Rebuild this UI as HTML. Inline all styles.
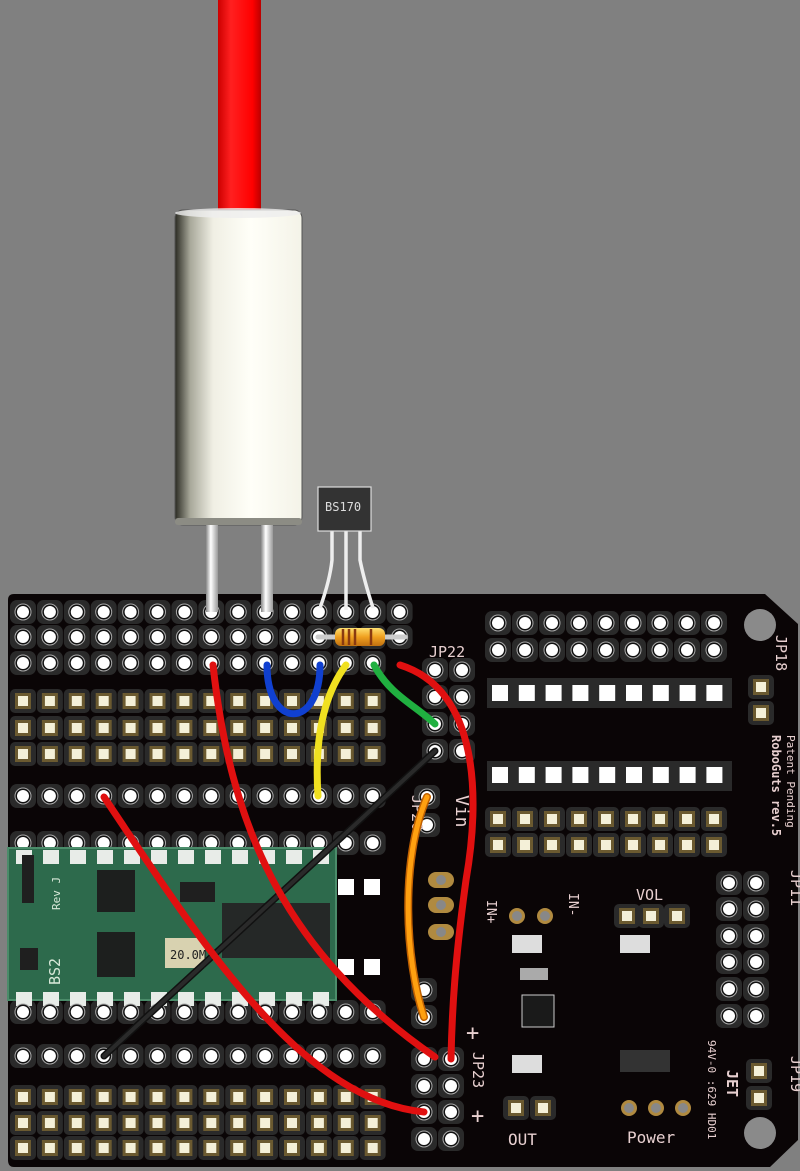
<!DOCTYPE html>
<html><head><meta charset="utf-8"><style>
html,body{margin:0;padding:0;background:#808080;}
svg{display:block}
text{font-family:"DejaVu Sans Mono","Liberation Mono",monospace;}
</style></head><body>
<svg id="s" width="800" height="1171" viewBox="0 0 800 1171" xmlns="http://www.w3.org/2000/svg">
<defs>
<linearGradient id="cyl" x1="0" x2="1" y1="0" y2="0">
<stop offset="0" stop-color="#2a2a22"/><stop offset="0.12" stop-color="#a8a89a"/><stop offset="0.3" stop-color="#f0efe4"/><stop offset="0.6" stop-color="#fffff8"/><stop offset="1" stop-color="#f4f3e8"/>
</linearGradient>
<linearGradient id="redw" x1="0" x2="1"><stop offset="0" stop-color="#c00"/><stop offset="0.3" stop-color="#ff2020"/><stop offset="0.8" stop-color="#f00"/><stop offset="1" stop-color="#b00"/></linearGradient>
<linearGradient id="pinw" x1="0" x2="1"><stop offset="0" stop-color="#888"/><stop offset="0.4" stop-color="#fff"/><stop offset="1" stop-color="#999"/></linearGradient>
<linearGradient id="res" x1="0" x2="0" y1="0" y2="1"><stop offset="0" stop-color="#ffe070"/><stop offset="0.5" stop-color="#f0a020"/><stop offset="1" stop-color="#c07010"/></linearGradient>
</defs>
<rect width="800" height="1171" fill="#808080"/>
<path d="M8 600 Q8 594 14 594 L765 594 L798 624 L798 1140 L770 1167 L14 1167 Q8 1167 8 1160 Z" fill="#0a0506"/>
<g id="pcb"></g>
<g id="under"></g>
<rect x="8" y="848" width="328" height="152" fill="#2d6a4c"/>
<rect x="8" y="848" width="328" height="152" fill="none" stroke="#4b8c6a" stroke-width="2"/>
<g fill="#e8ece8"><rect x="16" y="850" width="16" height="14"/><rect x="43" y="850" width="16" height="14"/><rect x="70" y="850" width="16" height="14"/><rect x="97" y="850" width="16" height="14"/><rect x="124" y="850" width="16" height="14"/><rect x="151" y="850" width="16" height="14"/><rect x="178" y="850" width="16" height="14"/><rect x="205" y="850" width="16" height="14"/><rect x="232" y="850" width="16" height="14"/><rect x="259" y="850" width="16" height="14"/><rect x="286" y="850" width="16" height="14"/><rect x="313" y="850" width="16" height="14"/>
<rect x="16" y="992" width="16" height="14"/><rect x="43" y="992" width="16" height="14"/><rect x="70" y="992" width="16" height="14"/><rect x="97" y="992" width="16" height="14"/><rect x="124" y="992" width="16" height="14"/><rect x="151" y="992" width="16" height="14"/><rect x="178" y="992" width="16" height="14"/><rect x="205" y="992" width="16" height="14"/><rect x="232" y="992" width="16" height="14"/><rect x="259" y="992" width="16" height="14"/><rect x="286" y="992" width="16" height="14"/><rect x="313" y="992" width="16" height="14"/></g>
<rect x="97" y="870" width="38" height="42" fill="#1d1f1e"/>
<rect x="97" y="932" width="38" height="45" fill="#1d1f1e"/>
<rect x="222" y="903" width="108" height="55" fill="#252827"/>
<rect x="165" y="938" width="40" height="30" fill="#d8d2b0"/>
<text x="170" y="959" font-size="12" fill="#222">20.0M</text>
<rect x="180" y="882" width="35" height="20" fill="#1f1f1f"/>
<text x="60" y="985" font-size="15" fill="#d8e8d8" transform="rotate(-90 60 985)">BS2</text>
<text x="60" y="910" font-size="11" fill="#d8e8d8" transform="rotate(-90 60 910)">Rev J</text>
<rect x="22" y="855" width="12" height="48" fill="#1f1f1f"/>
<rect x="20" y="948" width="18" height="22" fill="#1f1f1f"/>
<g id="pins"></g>
<g fill="#e8d0d0" font-size="15">
<text x="429" y="657">JP22</text>
<text x="412" y="795" transform="rotate(90 412 795)">JP20</text>
<text x="456" y="795" font-size="18" transform="rotate(90 456 795)">Vin</text>
<text x="473" y="1052" transform="rotate(90 473 1052)">JP23</text>
<text x="761" y="650" transform="rotate(90 776 650)" font-size="15">JP18</text>
<text x="787" y="735" transform="rotate(90 787 735)" font-size="11">Patent Pending</text>
<text x="772" y="735" transform="rotate(90 772 735)" font-size="12" font-weight="bold">RoboGuts rev.5</text>
<text x="791" y="870" transform="rotate(90 791 870)">JP11</text>
<text x="791" y="1056" transform="rotate(90 791 1056)">JP19</text>
<text x="636" y="900" font-size="15">VOL</text>
<text x="508" y="1145" font-size="16">OUT</text>
<text x="627" y="1143" font-size="16">Power</text>
<text x="487" y="900" transform="rotate(90 487 900)" font-size="13">IN+</text>
<text x="569" y="893" transform="rotate(90 569 893)" font-size="13">IN-</text>
<text x="708" y="1040" transform="rotate(90 708 1040)" font-size="11">94V-0 :629 HD01</text>
<text x="727" y="1070" transform="rotate(90 727 1070)" font-size="15" font-weight="bold">JET</text>
<text x="466" y="1040" font-size="22">+</text><text x="471" y="1123" font-size="22">+</text>
</g>
<g fill="#dddddd">
<rect x="512" y="935" width="30" height="18"/><rect x="620" y="935" width="30" height="18"/>
<rect x="512" y="1055" width="30" height="18"/><rect x="620" y="1050" width="50" height="22" fill="#333"/>
<rect x="520" y="968" width="28" height="12" fill="#aaa"/><rect x="522" y="995" width="32" height="32" fill="#1a1a1a" stroke="#ccc"/>
</g>
<circle cx="760" cy="625" r="16" fill="#8a8a8a"/>
<circle cx="760" cy="1133" r="16" fill="#8a8a8a"/>
<line x1="318" y1="637" x2="405" y2="637" stroke="#ccc" stroke-width="5" stroke-linecap="round"/>
<rect x="335" y="628" width="50" height="18" rx="6" fill="url(#res)"/>
<g stroke="#8a3a10" stroke-width="2.5"><line x1="343" y1="629" x2="343" y2="645"/><line x1="349" y1="629" x2="349" y2="645"/><line x1="355" y1="629" x2="355" y2="645"/><line x1="371" y1="629" x2="371" y2="645"/></g>
<g fill="none" stroke-linecap="round">
<path d="M267 665 C267 730 320 730 320 665" stroke="#1040d0" stroke-width="7"/>
<path d="M346 665 C320 700 315 750 318 796" stroke="#f0e020" stroke-width="7"/>
<path d="M374 665 C390 695 415 705 435 724" stroke="#20b040" stroke-width="7"/>
<path d="M427 797 C400 860 405 960 424 1017" stroke="#c06000" stroke-width="8"/>
<path d="M427 797 C400 860 405 960 424 1017" stroke="#ffa010" stroke-width="5"/>
<path d="M435 751 L104 1056" stroke="#111" stroke-width="7"/>
<path d="M435 751 L104 1056" stroke="#2a2a2a" stroke-width="4"/>
<path d="M213 665 C230 820 280 950 435 1057" stroke="#e01010" stroke-width="7"/>
<path d="M104 797 C200 940 300 1100 424 1112" stroke="#e01010" stroke-width="7"/>
<path d="M400 665 C480 690 480 800 466 880 C455 960 452 1010 451 1059" stroke="#e01010" stroke-width="7"/>
</g>
<rect x="218" y="0" width="43" height="215" fill="url(#redw)"/>
<rect x="175" y="210" width="127" height="315" rx="8" fill="url(#cyl)" stroke="#555" stroke-width="1"/>
<ellipse cx="238" cy="213" rx="63" ry="5" fill="#eee" opacity="0.8"/>
<rect x="175" y="518" width="127" height="7" rx="3" fill="#8c8c84"/>
<rect x="206" y="525" width="12" height="87" fill="url(#pinw)"/>
<rect x="261" y="525" width="12" height="87" fill="url(#pinw)"/>
<g fill="none" stroke="#eee" stroke-width="3.5">
<path d="M332 531 L332 560 Q330 580 320 608"/>
<path d="M346 531 L346 610"/>
<path d="M360 531 L360 560 Q364 580 373 608"/>
</g>
<rect x="318" y="487" width="53" height="44" fill="#333" stroke="#ddd" stroke-width="1.2"/>
<text x="325" y="511" font-size="12" fill="#ddd">BS170</text>
</svg>
<script>
var NS="http://www.w3.org/2000/svg";
var P=document.getElementById('pins'),B=document.getElementById('pcb'),U=document.getElementById('under');
function el(p,t,a){var e=document.createElementNS(NS,t);for(var k in a)e.setAttribute(k,a[k]);p.appendChild(e);return e;}
function rnd(x,y,T){T=T||P;el(B,'rect',{x:x-13,y:y-12,width:26,height:24,rx:7,fill:'#2a2a2a'});el(T,'circle',{cx:x,cy:y,r:8,fill:'#111',stroke:'#aaa','stroke-width':1});el(T,'circle',{cx:x,cy:y,r:6,fill:'#fff'});}
function sq(x,y){el(B,'rect',{x:x-13,y:y-12,width:26,height:24,rx:5,fill:'#2a2a2a'});el(P,'rect',{x:x-8,y:y-8,width:16,height:16,fill:'#6b5a30'});el(P,'rect',{x:x-5,y:y-5,width:10,height:10,fill:'#f4f0d8'});}
function wsq(x,y){el(P,'rect',{x:x-8,y:y-8,width:16,height:16,fill:'#fff'});}
var j;
for(j=0;j<14;j++){var x=23+26.9*j;
 [612,637,663,796,1012,1056].forEach(function(y){rnd(x,y);});
 [701,728,754,1097,1123,1148].forEach(function(y){sq(x,y);});
 rnd(x,843,j<12?U:P);
}
rnd(23+26.9*14,612);rnd(23+26.9*14,637);
for(j=0;j<9;j++){var x=498+27*j;rnd(x,623);rnd(x,650);sq(x,819);sq(x,845);}
el(B,'rect',{x:487,y:678,width:245,height:30,fill:'#2a2a2a'});
el(B,'rect',{x:487,y:761,width:245,height:30,fill:'#2a2a2a'});
for(j=0;j<9;j++){var x=500+26.8*j;wsq(x,693);wsq(x,775);}
[670,697,724,751].forEach(function(y){rnd(435,y);rnd(462,y);});
rnd(427,797);rnd(427,825);
[883,909,936,962,989,1016].forEach(function(y){rnd(729,y);rnd(756,y);});
[627,651,677].forEach(function(x){sq(x,916);});
[1059,1086,1112,1139].forEach(function(y){rnd(424,y);rnd(451,y);});
sq(516,1108);sq(543,1108);
sq(761,687);sq(761,713);sq(759,1071);sq(759,1098);
rnd(424,1017);rnd(424,990);
[629,656,683].forEach(function(x){el(P,'circle',{cx:x,cy:1108,r:8,fill:'#b08a40'});el(P,'circle',{cx:x,cy:1108,r:5,fill:'#888'});});
[880,905,932].forEach(function(y){el(P,'rect',{x:428,y:y-8,width:26,height:16,rx:8,fill:'#b08a40'});el(P,'circle',{cx:441,cy:y,r:5,fill:'#888'});});
[517,545].forEach(function(x){el(P,'circle',{cx:x,cy:916,r:8,fill:'#b08a40'});el(P,'circle',{cx:x,cy:916,r:5,fill:'#888'});});
[[346,887],[372,887],[346,967],[372,967]].forEach(function(p){wsq(p[0],p[1]);});
</script>
</body></html>
